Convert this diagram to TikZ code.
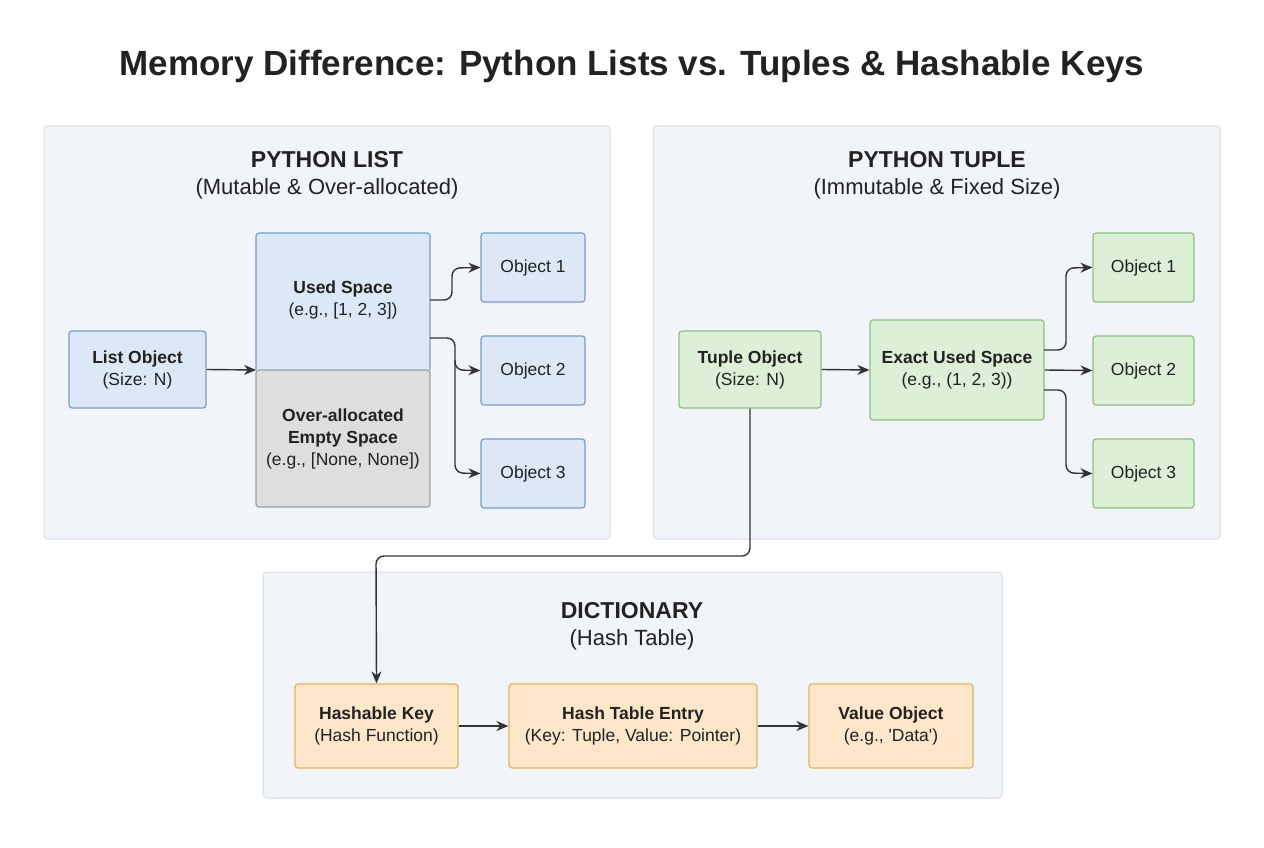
\documentclass[tikz,border=0pt]{standalone}
\usepackage{fontspec}
\setmainfont{Liberation Sans}
\usetikzlibrary{arrows.meta}
\definecolor{panelF}{HTML}{F1F4F8}\definecolor{panelD}{HTML}{D5DBE2}
\definecolor{bF}{HTML}{DCE8F8}\definecolor{bD}{HTML}{7A9CC6}
\definecolor{gF}{HTML}{DEDEDE}\definecolor{gD}{HTML}{9AA0A8}
\definecolor{grF}{HTML}{DDEFD6}\definecolor{grD}{HTML}{8FBF80}
\definecolor{oF}{HTML}{FDE6CA}\definecolor{oD}{HTML}{E5B25A}
\definecolor{ink}{HTML}{222222}\definecolor{arr}{HTML}{333333}
\begin{document}
\begin{tikzpicture}[x=1pt,y=-1pt,
 panel/.style={draw=panelD,fill=panelF,rounded corners=4pt,line width=1pt},
 box/.style={rounded corners=3pt,line width=1.2pt,align=center,text=ink,font=\fontsize{17.5}{22}\selectfont},
 blue/.style={box,draw=bD,fill=bF},
 green/.style={box,draw=grD,fill=grF},
 orange/.style={box,draw=oD,fill=oF},
 con/.style={draw=arr,line width=1.4pt,-{Stealth[length=12pt,width=10pt]},rounded corners=8pt},
 hd/.style={font=\fontsize{23}{27}\selectfont\bfseries,text=ink},
 sub/.style={font=\fontsize{22}{26}\selectfont,text=ink}]
\useasboundingbox (0,0) rectangle (1264,848);
\fill[white] (0,0) rectangle (1264,848);
\node[font=\fontsize{35}{40}\selectfont\bfseries,text=ink] (title) at (632,66) {Memory Difference: Python Lists vs. Tuples \& Hashable Keys};
% panels
\path[panel] (44,126) rectangle (610,539);
\path[panel] (653,126) rectangle (1220,539);
\path[panel] (263,572) rectangle (1002,798);
\node[hd] (lh) at (327,160) {PYTHON LIST};
\node[sub] (ls) at (327,189) {(Mutable \& Over-allocated)};
\node[hd] (th) at (937,160) {PYTHON TUPLE};
\node[sub] (ts) at (937,189) {(Immutable \& Fixed Size)};
\node[hd] (dh) at (632,611) {DICTIONARY};
\node[sub] (ds) at (632,640) {(Hash Table)};
% list
\node[blue,minimum width=137pt,minimum height=77pt] (lo) at (137.5,369.5) {\textbf{List Object}\\(Size: N)};
\node[blue,draw=none,minimum width=174pt,minimum height=137pt] (us) at (343,301.5) {};
\node[box,draw=gD,fill=gF,minimum width=174pt,minimum height=137pt] (ov) at (343,438.5) {\textbf{Over-allocated}\\\textbf{Empty Space}\\(e.g., [None, None])};
\draw[bD,line width=1.2pt,rounded corners=3pt] (256,370) -- (256,233) -- (430,233) -- (430,370);
\node[align=center,text=ink,font=\fontsize{17.5}{22}\selectfont] (ust) at (343,300) {\textbf{Used Space}\\(e.g., [1, 2, 3])};
\node[blue,minimum width=104pt,minimum height=69pt] (lo1) at (533,267.5) {Object 1};
\node[blue,minimum width=104pt,minimum height=69pt] (lo2) at (533,370.5) {Object 2};
\node[blue,minimum width=104pt,minimum height=69pt] (lo3) at (533,473.5) {Object 3};
\draw[con] (lo.east) -- (256,370);
\draw[con] (430,300) -- (452,300) -- (452,268) -- (lo1.west);
\draw[con] (430,338) -- (455,338) -- (455,370) -- (lo2.west);
\draw[con] (455,360) -- (455,473) -- (lo3.west);
% tuple
\node[green,minimum width=142pt,minimum height=77pt] (to) at (750,369.5) {\textbf{Tuple Object}\\(Size: N)};
\node[green,minimum width=174pt,minimum height=100pt] (ex) at (957,370) {\textbf{Exact Used Space}\\(e.g., (1, 2, 3))};
\node[green,minimum width=101pt,minimum height=69pt] (to1) at (1143.5,267.5) {Object 1};
\node[green,minimum width=101pt,minimum height=69pt] (to2) at (1143.5,370.5) {Object 2};
\node[green,minimum width=101pt,minimum height=69pt] (to3) at (1143.5,473.5) {Object 3};
\draw[con] (to.east) -- (ex.west);
\draw[con] (ex.east) -- (to2.west);
\draw[con] (1044,350) -- (1066,350) -- (1066,268) -- (to1.west);
\draw[con] (1044,390) -- (1066,390) -- (1066,473) -- (to3.west);
% dict
\node[orange,minimum width=163pt,minimum height=84pt] (hk) at (376.5,726) {\textbf{Hashable Key}\\(Hash Function)};
\node[orange,minimum width=248pt,minimum height=84pt] (he) at (633,726) {\textbf{Hash Table Entry}\\(Key: Tuple, Value: Pointer)};
\node[orange,minimum width=164pt,minimum height=84pt] (vo) at (891,726) {\textbf{Value Object}\\(e.g., \textquotesingle Data\textquotesingle)};
\draw[con] (hk.east) -- (he.west);
\draw[con] (he.east) -- (vo.west);
\draw[con] (to.south) -- (750,556) -- (376,556) -- (hk.north);
\end{tikzpicture}
\end{document}
